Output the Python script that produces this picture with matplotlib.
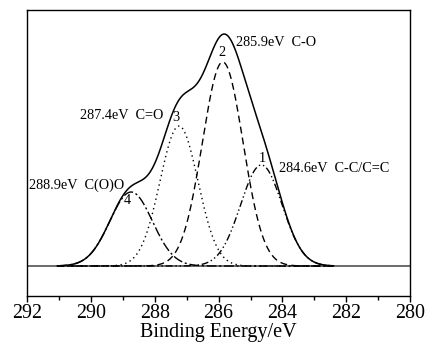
import numpy as np
import matplotlib
matplotlib.use('Agg')
import matplotlib.pyplot as plt

plt.rcParams['font.family'] = ['Liberation Serif', 'DejaVu Serif']

# fitted C1s components (arbitrary intensity units, baseline = 0)
peak_no = ['1', '2', '3', '4']
centers = [284.66, 285.87, 287.24, 288.74]   # eV, where the drawn peaks sit
heights = [101, 204, 140, 74]
fwhm = [1.53, 1.50, 1.40, 1.57]              # eV
labels = ['284.6eV  C-C/C=C', '285.9eV  C-O', '287.4eV  C=O', '288.9eV  C(O)O']
styles = [(0, (5, 2, 1, 2, 1, 2)), (0, (5, 3)), (0, (1, 2.5)), (0, (7, 2, 1.5, 2))]

x_ticks = [292, 290, 288, 286, 284, 282, 280]
e_start, e_end = 291.05, 282.4


def gauss(x, c, h, w):
    return h * np.exp(-4 * np.log(2) * (x - c) ** 2 / w ** 2)


x = np.linspace(e_start, e_end, 600)
comps = [gauss(x, c, h, w) for c, h, w in zip(centers, heights, fwhm)]
total = np.sum(comps, axis=0)

fig = plt.figure(figsize=(4.29, 3.45), dpi=100)
ax = fig.add_axes([0.063, 0.142, 0.893, 0.829])

ax.axhline(0, color='#444444', lw=1.1)
for comp, ls in zip(comps, styles):
    ax.plot(x, comp, color='black', lw=1.0, linestyle=ls)
ax.plot(x, total, color='black', lw=1.1)

# peak numbers and annotations (positions in data units)
num_pos = [(284.63, 108), (285.9, 214), (287.33, 149), (288.87, 66)]
for n, (px, py) in zip(peak_no, num_pos):
    ax.text(px, py, n, fontsize=10.3, ha='center', va='center')
ax.text(284.1, 98, labels[0], fontsize=10.3, va='center')
ax.text(285.45, 224, labels[1], fontsize=10.3, va='center')
ax.text(290.34, 151, labels[2], fontsize=10.3, va='center')
ax.text(291.94, 81, labels[3], fontsize=10.3, va='center')

ax.set_xlim(292, 280)
ax.set_ylim(-30, 256)
ax.set_xticks(x_ticks)
ax.set_xticks(np.arange(291, 280, -2), minor=True)
ax.set_yticks([])
ax.tick_params(axis='x', which='major', direction='out', length=4, width=1, labelsize=14.4, pad=1.5)
ax.tick_params(axis='x', which='minor', direction='out', length=3, width=1)
ax.set_xlabel('Binding Energy/eV', fontsize=14.5, labelpad=0)
for s in ax.spines.values():
    s.set_linewidth(1.0)

fig.savefig('out.png', dpi=100)
